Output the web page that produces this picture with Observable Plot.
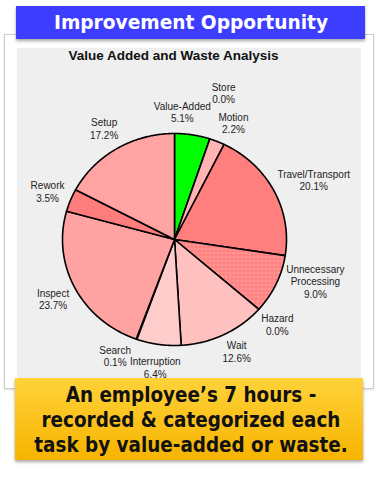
<!DOCTYPE html>
<html><head><meta charset="utf-8">
<script src="https://cdn.jsdelivr.net/npm/d3@7"></script>
<script src="https://cdn.jsdelivr.net/npm/@observablehq/plot@0.6"></script>
<style>
html,body{margin:0;padding:0;background:#fff;width:379px;height:477px;overflow:hidden;}
#card{position:absolute;left:4px;top:34px;width:368px;height:353px;border:1px solid #cdcdcd;background:#fff;box-shadow:0 1px 2px rgba(0,0,0,0.12);}
#banner{position:absolute;left:16px;top:6px;width:349px;height:33px;background:#3d3dff;color:#fff;font:bold 20px "DejaVu Sans",sans-serif;text-align:center;line-height:33px;box-shadow:0 2px 3px rgba(0,0,0,0.35);z-index:3;white-space:nowrap;overflow:hidden}
#banner div{width:420px;margin-left:-35.5px;transform:scaleX(0.93)}
#panel{position:absolute;left:17px;top:48px;width:344px;height:330px;background:#efefef;overflow:hidden;z-index:1}
#title{position:absolute;left:0;top:1px;width:313px;text-align:center;font:bold 13.5px "Liberation Sans",Arial,sans-serif;color:#111;line-height:14px}
#chart{position:absolute;left:0;top:0}
#note{position:absolute;left:15px;top:378px;width:348px;height:82px;background:linear-gradient(#ffd23a,#f6b400);z-index:4;box-shadow:0 2px 3px rgba(0,0,0,0.35);font:bold 21px "DejaVu Sans",sans-serif;line-height:25px;color:#111;padding-top:5px;box-sizing:border-box;white-space:nowrap;overflow:hidden}
#note div{width:440px;margin-left:-44px;text-align:center;transform:scaleX(0.875)}
</style></head>
<body>
<svg width="0" height="0" style="position:absolute">
  <defs>
    <pattern id="chkRework" width="2" height="2" patternUnits="userSpaceOnUse">
      <rect width="2" height="2" fill="#ff5050"/><rect width="1" height="1" fill="#ffffff"/>
    </pattern>
    <pattern id="chkInterrupt" width="2" height="2" patternUnits="userSpaceOnUse">
      <rect width="2" height="2" fill="#fff2f2"/><rect width="1" height="1" fill="#ffa6a6"/><rect x="1" y="1" width="1" height="1" fill="#ffa6a6"/>
    </pattern>
    <pattern id="chkMotion" width="2" height="2" patternUnits="userSpaceOnUse">
      <rect width="2" height="2" fill="#ffd0d0"/><rect width="1" height="1" fill="#ff9696"/><rect x="1" y="1" width="1" height="1" fill="#ff9696"/>
    </pattern>
    <pattern id="hatchUnnec" width="4" height="4" patternUnits="userSpaceOnUse">
      <rect width="4" height="4" fill="#ff7e7e"/><rect width="4" height="1" fill="#ff9898"/><rect width="1" height="4" fill="#ff9898"/>
    </pattern>
  </defs>
</svg>
<div id="card"></div>
<div id="banner"><div>Improvement Opportunity</div></div>
<div id="panel"><div id="chart"></div><div id="title">Value Added and Waste Analysis</div></div>
<div id="note"><div>An employee’s 7 hours -<br>recorded &amp; categorized each<br>task by value-added or waste.</div></div>
<script>
// ---- data ----
const categories = ["Value-Added","Store","Motion","Travel/Transport","Unnecessary Processing","Hazard","Wait","Interruption","Search","Inspect","Rework","Setup"];
const percents   = [5.1, 0.0, 2.2, 20.1, 9.0, 0.0, 12.6, 6.4, 0.1, 23.7, 3.5, 17.2];
const labelNames = ["Value-Added","Store","Motion","Travel/Transport","Unnecessary\nProcessing","Hazard","Wait","Interruption","Search","Inspect","Rework","Setup"];

// ---- styles ----
const fills = {
  "Value-Added":"#00ff00","Store":"#ffb0b0","Motion":"url(#chkMotion)","Travel/Transport":"#ff7f7f",
  "Unnecessary Processing":"url(#hatchUnnec)","Hazard":"#ff9090","Wait":"#ffc0c0","Interruption":"url(#chkInterrupt)",
  "Search":"#ffa0a0","Inspect":"#ffa2a2","Rework":"url(#chkRework)","Setup":"#ffa3a3"
};
// label nudges in pixels (layout only)
const nudge = {"Value-Added":[-14,0],"Store":[6,-24],"Motion":[7,3],"Travel/Transport":[18,0],
  "Unnecessary Processing":[17,-13],"Wait":[2,-4],"Search":[-13,-5]};

const W = 344, H = 330;
const cx = 157, cy = 191, rx = 112, ry = 106;
const arcs = d3.pie().sort(null).value(d => d)(percents);

const slices = arcs.map((a, i) => {
  const pts = [{x:0, y:0}];
  const n = Math.max(2, Math.ceil((a.endAngle - a.startAngle) / (Math.PI/360)));
  for (let k = 0; k <= n; k++) {
    const t = a.startAngle + (a.endAngle - a.startAngle) * k / n;
    pts.push({x: Math.sin(t), y: Math.cos(t)});
  }
  pts.push({x:0, y:0});
  return {name: categories[i], pts};
});

const labels = arcs.map((a, i) => {
  const m = (a.startAngle + a.endAngle) / 2;
  const r = 1.22;
  const nd = nudge[categories[i]] || [0,0];
  return {
    x: r*Math.sin(m) + nd[0]/rx,
    y: r*Math.cos(m) - nd[1]/ry,
    text: labelNames[i] + "\n" + d3.format(".1f")(percents[i]) + "%"
  };
});

const chart = Plot.plot({
  width: W, height: H,
  margin: 0,
  style: {background: "transparent", overflow: "visible"},
  x: {domain: [-1, 1], range: [cx - rx, cx + rx], axis: null},
  y: {domain: [-1, 1], range: [cy + ry, cy - ry], axis: null},
  marks: [
    ...slices.map(s => Plot.line(s.pts, {x: "x", y: "y", fill: fills[s.name], stroke: "#000", strokeWidth: 1.6, strokeLinejoin: "round", curve: "linear"})),
    Plot.text(labels, {x: "x", y: "y", text: "text", fontSize: 10, lineHeight: 1.25, fill: "#222",
      fontFamily: "'Liberation Sans', Arial, sans-serif", textAnchor: "middle", lineAnchor: "middle"})
  ]
});
document.getElementById("chart").appendChild(chart);
</script>
</body></html>
